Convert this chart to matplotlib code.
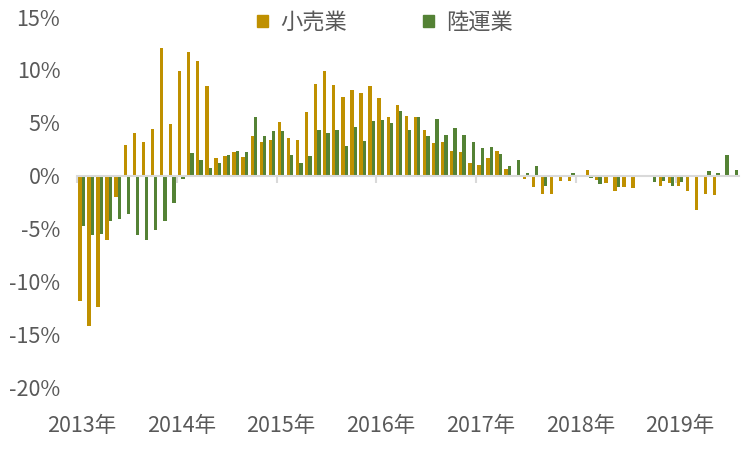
import numpy as np
import matplotlib
matplotlib.use('Agg')
import matplotlib.pyplot as plt
from matplotlib.patches import Patch

plt.rcParams['font.family'] = ['Noto Sans CJK JP', 'DejaVu Sans']

# 前年比 (%) – 月次
kouri = [-11.9, -14.2, -12.4, -6.1, -2.0, 2.9, 4.0, 3.2, 4.4, 12.1, 4.9, 9.9,
         11.7, 10.85, 8.46, 1.65, 1.87, 2.22, 1.78, 3.73, 3.2, 3.36, 5.09, 3.58,
         3.36, 6.03, 8.65, 9.88, 8.55, 7.45, 8.08, 7.83, 8.46, 7.35, 5.56, 6.66,
         5.62, 5.56, 4.3, 3.1, 3.2, 2.35, 2.22, 1.21, 0.99, 1.68, 2.32, 0.61,
         0.0, -0.36, -1.06, -1.75, -1.75, -0.49, -0.49, 0.0, 0.52, -0.43, -0.68, -1.43,
         -1.1, -1.2, 0.0, -0.15, -0.96, -0.68, -0.96, -1.42, -3.3, -1.7, -1.8, -0.12,
         0.0]
rikuun = [-4.74, -5.6, -5.5, -4.3, -4.1, -3.6, -5.6, -6.1, -5.15, -4.3, -2.6, -0.36,
          2.15, 1.47, 0.74, 1.21, 1.94, 2.3, 2.22, 5.56, 3.73, 4.2, 4.2, 1.94,
          1.21, 1.84, 4.3, 4.05, 4.3, 2.79, 4.61, 3.29, 5.18, 5.25, 4.99, 6.12,
          4.3, 5.56, 3.73, 5.34, 3.83, 4.49, 3.83, 3.17, 2.57, 2.67, 2.03, 0.9,
          1.47, 0.26, 0.9, -0.96, 0.0, 0.0, 0.23, 0.0, -0.2, -0.75, 0.0, -1.1,
          0.0, -0.15, 0.0, -0.6, -0.5, -0.96, -0.6, -0.1, 0.0, 0.43, 0.29, 1.95,
          0.52]
year_labels = ['2013年', '2014年', '2015年', '2016年', '2017年', '2018年', '2019年']
label_every = 11

orange = '#BF9000'
green = '#548235'
grey_txt = '#595959'

x = np.arange(len(kouri))
fig = plt.figure(figsize=(7.5, 4.5), dpi=100)
ax = fig.add_axes([0.1027, 0.14, 0.8827, 0.8222])

w = 0.37
ax.bar(x - w / 2, kouri, width=w, color=orange)
ax.bar(x + w / 2, rikuun, width=w, color=green)

ax.set_xlim(-0.5, len(x) - 0.5)
ax.set_ylim(-20, 15)
ax.set_yticks(np.arange(-20, 16, 5))
ax.set_yticklabels([f'{v}%' for v in range(-20, 16, 5)])
ax.tick_params(axis='y', length=0, pad=12, labelsize=15.5, labelcolor=grey_txt)

for s in ['top', 'right', 'left']:
    ax.spines[s].set_visible(False)
ax.spines['bottom'].set_position(('data', 0))
ax.spines['bottom'].set_color('#D9D9D9')
ax.spines['bottom'].set_linewidth(1.5)
ax.set_xticks([])
ax.set_xticks(np.arange(-0.5, len(x), label_every), minor=True)
ax.tick_params(axis='x', which='minor', length=5, width=1.5, color='#D9D9D9')
ax.set_zorder(1)

for i, lab in enumerate(year_labels):
    ax.text(i * label_every, -0.105, lab, transform=ax.get_xaxis_transform(),
            ha='center', va='center', fontsize=15.5, color=grey_txt)

handles = [Patch(color=orange), Patch(color=green)]
fig.legend(handles, ['小売業', '陸運業'], loc='upper center', bbox_to_anchor=(0.513, 1.02),
           ncol=2, frameon=False, fontsize=16, handlelength=0.5, handleheight=0.5,
           columnspacing=3.4, handletextpad=0.55, labelcolor=grey_txt)

fig.savefig('out.png', dpi=100)
